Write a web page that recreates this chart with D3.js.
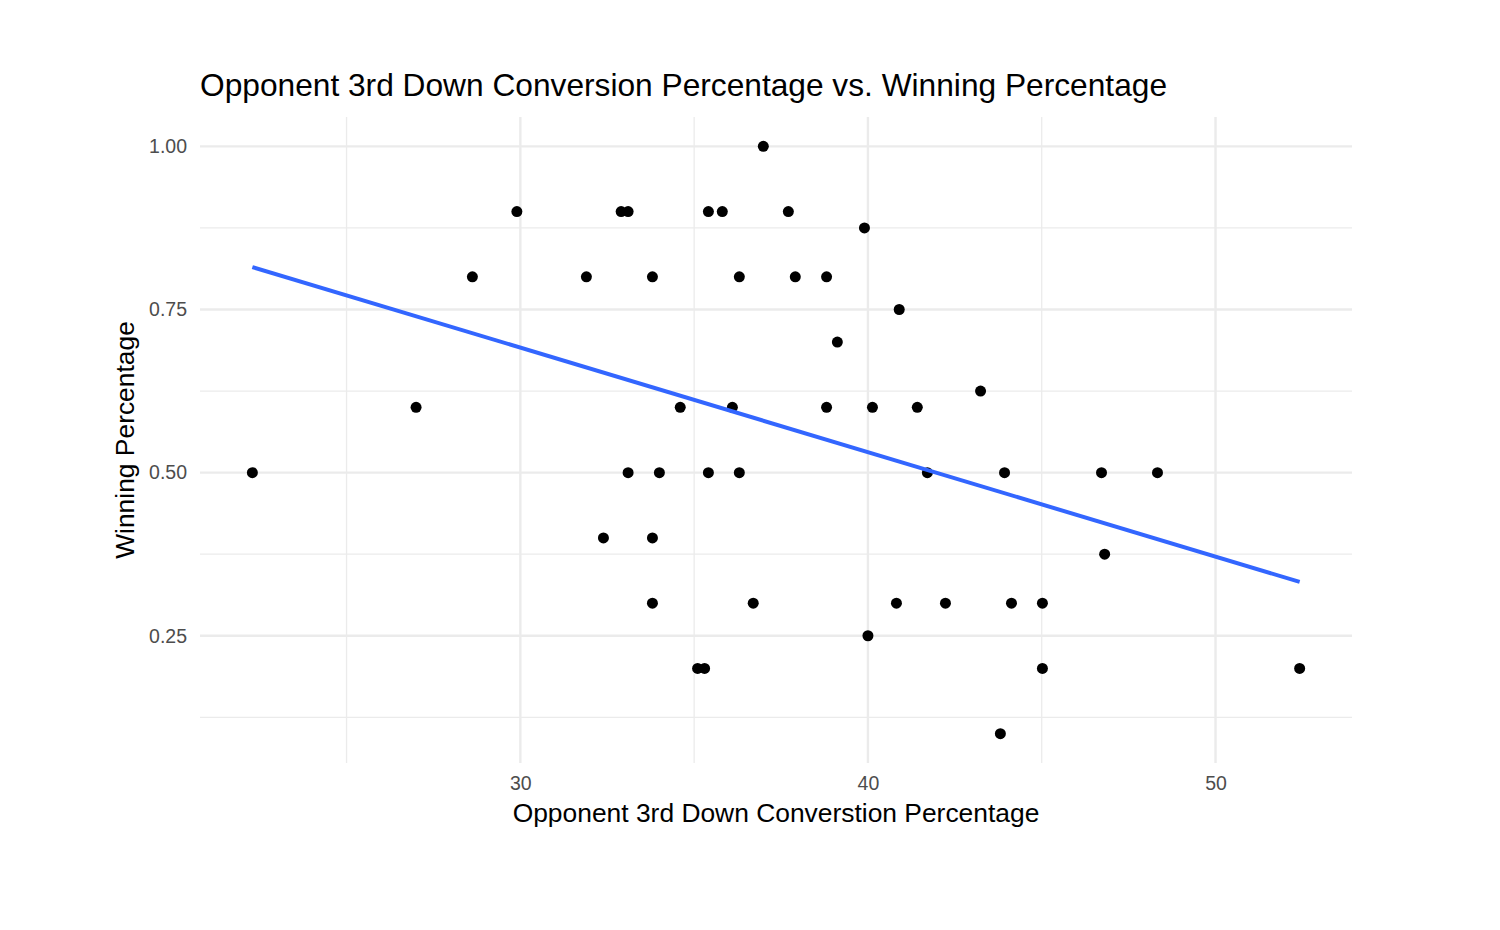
<!DOCTYPE html>
<html lang="en">
  <head>
    <meta charset="UTF-8" />
    <title>Opponent 3rd Down Conversion Percentage vs. Winning Percentage</title>
    <style>
      body { margin: 0; background: #fff; }
      text { font-family: "Liberation Sans", Arial, sans-serif; }
      .tick text { fill: #4d4d4d; font-size: 19.5px; }
    </style>
  </head>
  <body>
    <div id="app"></div>
    <script src="https://cdn.jsdelivr.net/npm/d3@7"></script>
    <script>
      // opponent 3rd down conversion %
      const oppConv = [
        22.29, 27.0, 28.62, 29.9, 31.9, 32.39, 32.9, 33.1, 33.1, 33.8,
        33.8, 33.8, 34.0, 34.6, 35.1, 35.3, 35.41, 35.41, 35.81, 36.1,
        36.3, 36.3, 36.7, 36.99, 37.71, 37.91, 38.81, 38.81, 39.12, 39.9,
        40.0, 40.13, 40.82, 40.9, 41.42, 41.71, 42.23, 43.24, 43.81, 43.93,
        44.13, 45.02, 45.02, 46.72, 46.81, 48.33, 52.42
      ];
      // winning %
      const winPct = [
        0.5, 0.6, 0.8, 0.9, 0.8, 0.4, 0.9, 0.9, 0.5, 0.8,
        0.4, 0.3, 0.5, 0.6, 0.2, 0.2, 0.9, 0.5, 0.9, 0.6,
        0.8, 0.5, 0.3, 1.0, 0.9, 0.8, 0.8, 0.6, 0.7, 0.875,
        0.25, 0.6, 0.3, 0.75, 0.6, 0.5, 0.3, 0.625, 0.1, 0.5,
        0.3, 0.3, 0.2, 0.5, 0.375, 0.5, 0.2
      ];
      // lm fit line (at min and max x)
      const fitX = [22.29, 52.42];
      const fitY = [0.815, 0.3325];

      const xTicks = [30, 40, 50];
      const xMinor = [25, 35, 45];
      const yTicks = [0.25, 0.5, 0.75, 1.0];
      const yMinor = [0.125, 0.375, 0.625, 0.875];

      const width = 1500, height = 930;
      const pLeft = 200, pRight = 1352, pTop = 117, pBottom = 763;

      const data = oppConv.map((x, i) => ({ x: x, y: winPct[i] }));

      // ggplot-style 5% expansion
      const xExt = d3.extent(oppConv), yExt = d3.extent(winPct);
      const xPad = (xExt[1] - xExt[0]) * 0.05, yPad = (yExt[1] - yExt[0]) * 0.05;

      const x = d3.scaleLinear().domain([xExt[0] - xPad, xExt[1] + xPad]).range([pLeft, pRight]);
      const y = d3.scaleLinear().domain([yExt[0] - yPad, yExt[1] + yPad]).range([pBottom, pTop]);

      const svg = d3.select("#app").append("svg")
        .attr("width", width).attr("height", height);

      // grid
      const grid = svg.append("g");
      grid.selectAll(".xminor").data(xMinor).enter().append("line")
        .attr("x1", d => x(d)).attr("x2", d => x(d)).attr("y1", pTop).attr("y2", pBottom)
        .attr("stroke", "#ebebeb").attr("stroke-width", 1.3);
      grid.selectAll(".yminor").data(yMinor).enter().append("line")
        .attr("y1", d => y(d)).attr("y2", d => y(d)).attr("x1", pLeft).attr("x2", pRight)
        .attr("stroke", "#ebebeb").attr("stroke-width", 1.3);
      grid.selectAll(".xmajor").data(xTicks).enter().append("line")
        .attr("x1", d => x(d)).attr("x2", d => x(d)).attr("y1", pTop).attr("y2", pBottom)
        .attr("stroke", "#ebebeb").attr("stroke-width", 2.4);
      grid.selectAll(".ymajor").data(yTicks).enter().append("line")
        .attr("y1", d => y(d)).attr("y2", d => y(d)).attr("x1", pLeft).attr("x2", pRight)
        .attr("stroke", "#ebebeb").attr("stroke-width", 2.4);

      // axes (labels only)
      svg.append("g")
        .attr("transform", `translate(0,${pBottom})`)
        .call(d3.axisBottom(x).tickValues(xTicks).tickSize(0).tickPadding(13));
      svg.append("g")
        .attr("transform", `translate(${pLeft},0)`)
        .call(d3.axisLeft(y).tickValues(yTicks).tickFormat(d3.format(".2f")).tickSize(0).tickPadding(13));
      svg.selectAll(".domain").remove();
      svg.selectAll(".tick text").attr("font-family", null);

      // points
      svg.append("g").selectAll("circle").data(data).enter().append("circle")
        .attr("cx", d => x(d.x)).attr("cy", d => y(d.y)).attr("r", 5.5)
        .attr("fill", "#000");

      // linear fit
      const fit = fitX.map((v, i) => ({ x: v, y: fitY[i] }));
      svg.append("path").datum(fit)
        .attr("d", d3.line().x(d => x(d.x)).y(d => y(d.y)))
        .attr("fill", "none").attr("stroke", "#3366ff").attr("stroke-width", 4);

      // titles
      svg.append("text").attr("x", pLeft).attr("y", 96)
        .attr("font-size", 31.7).attr("fill", "#000")
        .text("Opponent 3rd Down Conversion Percentage vs. Winning Percentage");
      svg.append("text").attr("x", (pLeft + pRight) / 2).attr("y", 822)
        .attr("text-anchor", "middle").attr("font-size", 26.4).attr("fill", "#000")
        .text("Opponent 3rd Down Converstion Percentage");
      svg.append("text")
        .attr("transform", `translate(134,${(pTop + pBottom) / 2}) rotate(-90)`)
        .attr("text-anchor", "middle").attr("font-size", 26.4).attr("fill", "#000")
        .text("Winning Percentage");
    </script>
  </body>
</html>
